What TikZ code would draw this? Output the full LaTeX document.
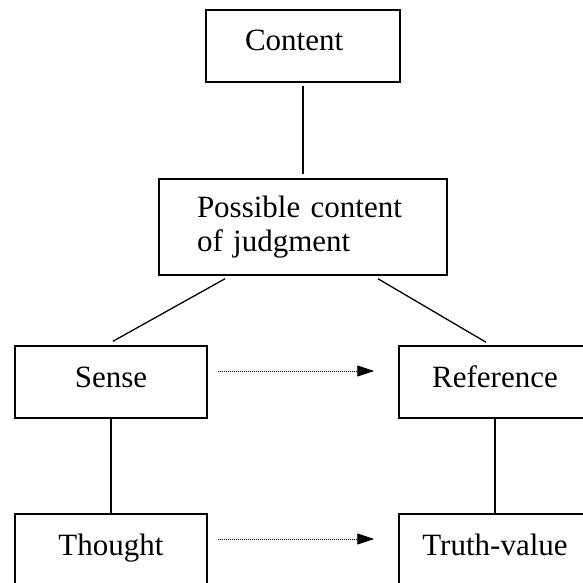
\documentclass[tikz,border=0pt]{standalone}
\usepackage{fontspec}
\setmainfont{Liberation Serif}
\usetikzlibrary{arrows.meta}
\begin{document}
\begin{tikzpicture}[x=1pt,y=-1pt,
  box/.style={draw=black, line width=1.5pt, rectangle, inner sep=0pt,
    font=\fontsize{31}{34}\selectfont},
  onebox/.style={box, minimum width=192pt, minimum height=72pt,
    text height=20pt, text depth=10pt},
  link/.style={draw=black, line width=1.3pt},
  dotarrow/.style={draw=black, line width=0.9pt, dash pattern=on 1pt off 1pt,
    -{Triangle[length=17pt,width=11pt]}}
]
\useasboundingbox (0,0) rectangle (583,583);
\clip (0,0) rectangle (583,583);
\node[box, minimum height=72pt, text height=20pt, text depth=10pt,
      text width=116pt, inner xsep=39pt, align=left] (content) at (303,46) {Content};
\node[box, minimum height=96pt, text width=212pt, inner xsep=38pt,
      align=left] (possible) at (303,227) {Possible content\\of judgment};
\node[onebox] (sense) at (111,382) {Sense};
\node[onebox] (reference) at (495,382) {Reference};
\node[onebox] (thought) at (111,550) {Thought};
\node[onebox] (truth) at (495,550) {Truth-value};
\draw[link] ([yshift=-3pt]content.south) -- ([yshift=4pt]possible.north);
\draw[link] ([xshift=-78pt,yshift=-3pt]possible.south) -- ([xshift=2pt,yshift=4pt]sense.north);
\draw[link] ([xshift=75pt,yshift=-3pt]possible.south) -- ([xshift=-9pt,yshift=3pt]reference.north);
\draw[link] (sense.south) -- (thought.north);
\draw[link] (reference.south) -- (truth.north);
\draw[dotarrow] ([xshift=10pt,yshift=11pt]sense.east) -- ([xshift=-24pt,yshift=11pt]reference.west);
\draw[dotarrow] ([xshift=10pt,yshift=11pt]thought.east) -- ([xshift=-24pt,yshift=11pt]truth.west);
\end{tikzpicture}
\end{document}
